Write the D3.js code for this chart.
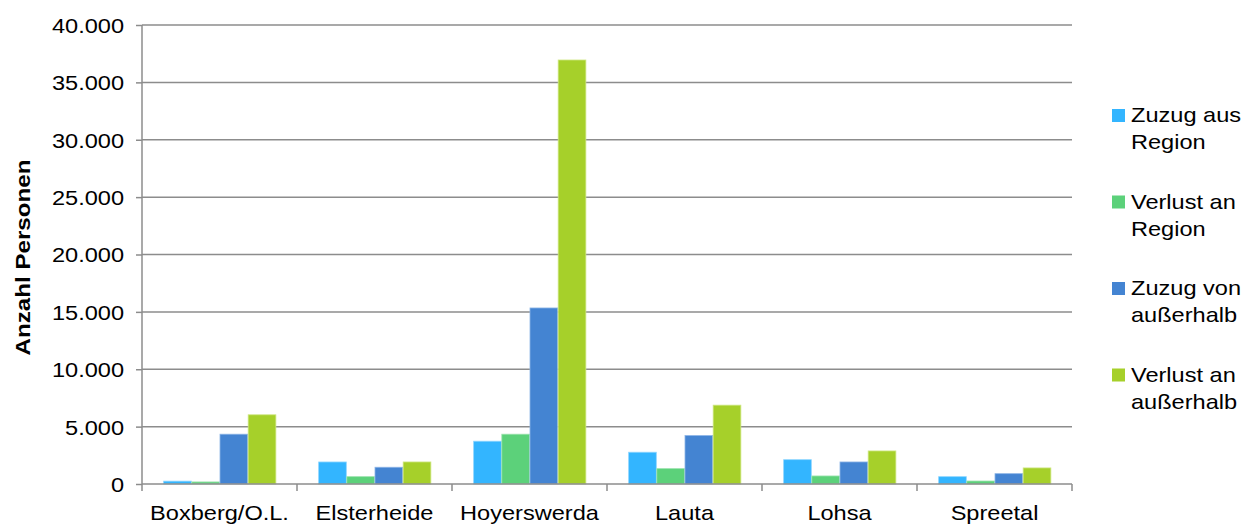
<!DOCTYPE html>
<html>
<head>
<meta charset="utf-8">
<script src="https://cdn.jsdelivr.net/npm/d3@7"></script>
<style>
  body { margin: 0; background: #fff; }
  svg text { font-family: "Liberation Sans", Arial, sans-serif; fill: #000; }
</style>
</head>
<body>
<svg id="chart" width="1254" height="527"></svg>
<script>
// Gemeinden (Kategorien)
const categories = ["Boxberg/O.L.", "Elsterheide", "Hoyerswerda", "Lauta", "Lohsa", "Spreetal"];

// Reihen
const seriesNames = ["Zuzug aus Region", "Verlust an Region", "Zuzug von außerhalb", "Verlust an außerhalb"];
const legendLines = [["Zuzug aus", "Region"], ["Verlust an", "Region"], ["Zuzug von", "außerhalb"], ["Verlust an", "außerhalb"]];

const zuzugAusRegion      = [250, 1920, 3730, 2770, 2120, 640];
const verlustAnRegion     = [180, 640, 4340, 1340, 700, 260];
const zuzugVonAusserhalb  = [4340, 1460, 15340, 4220, 1920, 900];
const verlustAnAusserhalb = [6030, 1920, 36950, 6870, 2880, 1400];

const yTicks = [0, 5000, 10000, 15000, 20000, 25000, 30000, 35000, 40000];

const seriesValues = [zuzugAusRegion, verlustAnRegion, zuzugVonAusserhalb, verlustAnAusserhalb];
const colors = ["#33b5ff", "#5cd17a", "#4484d2", "#a6d02a"];
const edges  = ["#8fd6ff", "#9be3ad", "#8cb4e6", "#cde67f"];

const FONT = "20.5px";
const WIDEN = 1.15; // horizontal stretch of the lettering

const svg = d3.select("#chart");
const plot = { left: 142, right: 1072, top: 25, bottom: 484 };

const x = d3.scaleBand().domain(categories).range([plot.left, plot.right]).paddingInner(0).paddingOuter(0);
// outer padding 0.75 per side gives a gap of 1.5 bar widths between groups
const x1 = d3.scaleBand().domain(d3.range(seriesNames.length))
  .range([0, x.bandwidth()]).paddingInner(0).paddingOuter(0.75);

const y = d3.scaleLinear().domain([0, 40000]).range([plot.bottom, plot.top]);
const fmt = d3.formatLocale({ decimal: ",", thousands: ".", grouping: [3], currency: ["", " €"] }).format(",.0f");

// Gitternetz
svg.append("g").selectAll("line").data(yTicks.slice(1)).join("line")
  .attr("x1", plot.left).attr("x2", plot.right)
  .attr("y1", d => y(d)).attr("y2", d => y(d))
  .attr("stroke", "#8c8c8c").attr("stroke-width", 1.5);

// Y-Achse
const yAxis = svg.append("g").attr("transform", `translate(${plot.left},0)`)
  .call(d3.axisLeft(y).tickValues(yTicks).tickFormat(fmt).tickSize(6).tickPadding(12));
yAxis.select(".domain").attr("stroke", "#8c8c8c").attr("stroke-width", 1.5)
  .attr("d", `M0,${plot.top}V${plot.bottom}`);
yAxis.selectAll(".tick line").attr("stroke", "#8c8c8c").attr("stroke-width", 1.5);
yAxis.selectAll(".tick text").attr("font-size", FONT).attr("dy", "0.36em")
  .attr("x", -18 / WIDEN).attr("transform", `scale(${WIDEN},1)`);

// Balken
const groups = svg.append("g").selectAll("g").data(categories).join("g")
  .attr("transform", d => `translate(${x(d)},0)`);
groups.selectAll("rect")
  .data((c, i) => seriesValues.map((vals, s) => ({ s, v: vals[i] })))
  .join("rect")
  .attr("x", d => x1(d.s) + 0.5)
  .attr("width", x1.bandwidth() - 0.5)
  .attr("y", d => y(d.v))
  .attr("height", d => y(0) - y(d.v))
  .attr("fill", d => colors[d.s])
  .attr("stroke", d => edges[d.s])
  .attr("stroke-width", 0.8);

// X-Achse
const xAxis = svg.append("g").attr("transform", `translate(0,${plot.bottom})`);
xAxis.append("line").attr("x1", plot.left).attr("x2", plot.right)
  .attr("stroke", "#8c8c8c").attr("stroke-width", 1.5);
const catEdges = categories.map(c => x(c)).concat([x(categories[categories.length - 1]) + x.bandwidth()]);
xAxis.selectAll(".cat-tick").data(catEdges).join("line").attr("class", "cat-tick")
  .attr("x1", d => d).attr("x2", d => d).attr("y1", 0).attr("y2", 7)
  .attr("stroke", "#8c8c8c").attr("stroke-width", 1.5);
xAxis.selectAll(".cat-label").data(categories).join("text").attr("class", "cat-label")
  .attr("transform", d => `translate(${x(d) + x.bandwidth() / 2},36) scale(${WIDEN},1)`)
  .attr("text-anchor", "middle").attr("font-size", FONT).text(d => d);

// Achsentitel
svg.append("text")
  .attr("transform", `translate(30,${(plot.top + plot.bottom) / 2 + 3}) rotate(-90) scale(${WIDEN},1)`)
  .attr("text-anchor", "middle").attr("font-size", "21px").attr("font-weight", "bold")
  .text("Anzahl Personen");

// Legende
const legend = svg.append("g").selectAll("g").data(seriesNames).join("g")
  .attr("transform", (d, i) => `translate(1112,${122 + i * 86.5})`);
legend.append("rect").attr("x", 0).attr("y", -13).attr("width", 13).attr("height", 13)
  .attr("fill", (d, i) => colors[i]);
legend.append("text").attr("transform", `translate(19,0) scale(${WIDEN},1)`).attr("font-size", FONT)
  .selectAll("tspan").data((d, i) => legendLines[i]).join("tspan")
  .attr("x", 0).attr("dy", (d, j) => j === 0 ? 0 : 27.5).text(d => d);
</script>
</body>
</html>
